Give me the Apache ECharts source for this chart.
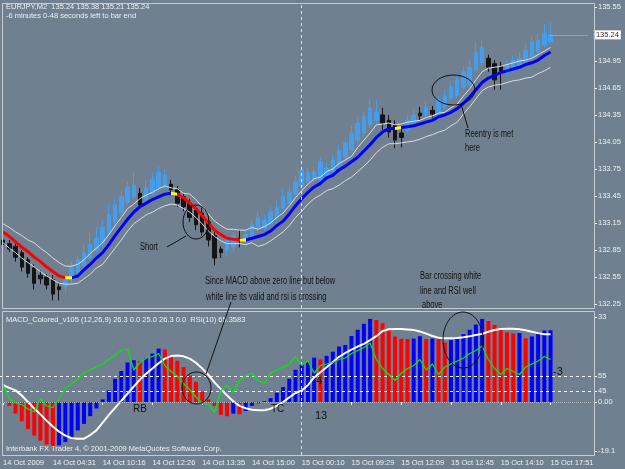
<!DOCTYPE html>
<html>
<head>
<meta charset="utf-8">
<title>EURJPY,M2</title>
<script src="https://cdn.jsdelivr.net/npm/echarts@6/dist/echarts.min.js"></script>
<style>
  html, body { margin: 0; padding: 0; background: #708090; }
  #chart { width: 625px; height: 469px; }
</style>
</head>
<body>
<div id="chart"></div>
<script>
// time axis labels, one every 8 bars
const timeLabels = ['14 Oct 2009', '14 Oct 04:31', '14 Oct 10:16', '14 Oct 12:26', '14 Oct 13:35', '14 Oct 15:00',
  '15 Oct 00:10', '15 Oct 09:29', '15 Oct 12:09', '15 Oct 12:45', '15 Oct 14:10', '15 Oct 17:51'];
const labelStep = 8;
const shiftBars = 6;      // empty bars on the right (chart shift)
const separatorBar = 48;  // day separator (15 Oct 00:10)

// candles
const opens = [
  132.96, 132.92, 132.89, 132.82, 132.74, 132.65, 132.57, 132.55, 132.52, 132.44,
  132.44, 132.52, 132.59, 132.67, 132.76, 132.85, 132.92, 133.05, 133.16, 133.26,
  133.38, 133.44, 133.48, 133.41, 133.48, 133.54, 133.56, 133.58, 133.52, 133.44,
  133.37, 133.29, 133.26, 133.16, 133.01, 132.86, 132.85, 132.88, 132.98, 132.95,
  133.00, 133.10, 133.10, 133.15, 133.21, 133.32, 133.37, 133.47, 133.56, 133.61,
  133.63, 133.63, 133.68, 133.72, 133.79, 133.88, 133.96, 134.07, 134.15, 134.24,
  134.29, 134.35, 134.29, 134.24, 134.15, 134.18, 134.26, 134.37, 134.35, 134.40,
  134.38, 134.44, 134.54, 134.57, 134.66, 134.69, 134.85, 134.93, 134.98, 134.92,
  134.89, 134.82, 134.85, 134.89, 134.94, 135.00, 135.05, 135.13, 135.16];
const closes = [
  132.91, 132.86, 132.77, 132.66, 132.59, 132.48, 132.53, 132.46, 132.36, 132.41,
  132.52, 132.66, 132.74, 132.82, 132.91, 132.98, 133.10, 133.24, 133.35, 133.44,
  133.55, 133.57, 133.35, 133.54, 133.63, 133.71, 133.68, 133.52, 133.37, 133.33,
  133.21, 133.13, 133.05, 132.96, 132.76, 132.82, 132.96, 133.01, 132.97, 133.02,
  133.13, 133.21, 133.18, 133.27, 133.32, 133.44, 133.49, 133.61, 133.74, 133.71,
  133.72, 133.83, 133.76, 133.85, 133.96, 134.04, 134.15, 134.26, 134.33, 134.43,
  134.38, 134.26, 134.16, 134.07, 134.10, 134.29, 134.35, 134.34, 134.44, 134.36,
  134.52, 134.56, 134.66, 134.74, 134.83, 134.88, 135.04, 135.10, 134.88, 134.74,
  134.83, 134.91, 134.96, 134.98, 135.07, 135.16, 135.18, 135.26, 135.24];
const lows = [
  132.77, 132.83, 132.72, 132.61, 132.54, 132.41, 132.47, 132.41, 132.29, 132.29,
  132.37, 132.47, 132.56, 132.63, 132.72, 132.82, 132.87, 133.01, 133.12, 133.23,
  133.35, 133.41, 133.32, 133.36, 133.45, 133.49, 133.52, 133.46, 133.33, 133.28,
  133.16, 133.07, 133.01, 132.89, 132.68, 132.76, 132.78, 132.83, 132.88, 132.88,
  132.96, 133.04, 133.06, 133.12, 133.17, 133.28, 133.34, 133.44, 133.52, 133.57,
  133.59, 133.59, 133.65, 133.68, 133.74, 133.85, 133.93, 134.04, 134.12, 134.21,
  134.26, 134.18, 134.10, 133.98, 133.99, 134.15, 134.23, 134.29, 134.32, 134.32,
  134.35, 134.41, 134.51, 134.54, 134.63, 134.66, 134.83, 134.89, 134.83, 134.63,
  134.63, 134.78, 134.82, 134.85, 134.91, 134.96, 135.02, 135.10, 135.14];
const highs = [
  133.02, 132.96, 132.92, 132.85, 132.77, 132.69, 132.62, 132.58, 132.57, 132.49,
  132.55, 132.72, 132.78, 132.91, 133.04, 133.11, 133.18, 133.35, 133.44, 133.52,
  133.61, 133.72, 133.54, 133.63, 133.71, 133.78, 133.75, 133.63, 133.56, 133.48,
  133.42, 133.34, 133.32, 133.21, 133.05, 132.89, 133.01, 133.05, 133.07, 133.07,
  133.18, 133.27, 133.24, 133.33, 133.41, 133.52, 133.57, 133.67, 133.82, 133.76,
  133.78, 133.88, 133.82, 133.91, 134.02, 134.10, 134.23, 134.32, 134.38, 134.52,
  134.52, 134.43, 134.35, 134.29, 134.21, 134.34, 134.41, 134.44, 134.50, 134.45,
  134.56, 134.63, 134.72, 134.81, 134.89, 134.96, 135.16, 135.18, 135.02, 134.96,
  134.94, 134.95, 135.01, 135.05, 135.13, 135.23, 135.26, 135.36, 135.38];

// moving average and its envelope
const maLine = [
  133.05, 133.00, 132.94, 132.88, 132.83, 132.77, 132.72, 132.66, 132.61, 132.56,
  132.54, 132.54, 132.56, 132.63, 132.69, 132.76, 132.82, 132.91, 133.01, 133.10,
  133.19, 133.27, 133.33, 133.37, 133.41, 133.44, 133.47, 133.48, 133.47, 133.43,
  133.37, 133.31, 133.23, 133.15, 133.07, 133.02, 132.98, 132.97, 132.96, 132.96,
  132.98, 133.00, 133.02, 133.06, 133.12, 133.17, 133.25, 133.34, 133.42, 133.49,
  133.55, 133.59, 133.65, 133.68, 133.74, 133.78, 133.83, 133.88, 133.95, 134.02,
  134.10, 134.16, 134.20, 134.20, 134.21, 134.22, 134.23, 134.25, 134.27, 134.29,
  134.33, 134.35, 134.38, 134.42, 134.48, 134.55, 134.63, 134.71, 134.76, 134.79,
  134.82, 134.84, 134.86, 134.88, 134.91, 134.93, 134.96, 135.01, 135.05];
const upperBand = [
  133.14, 133.10, 133.05, 133.01, 132.96, 132.93, 132.87, 132.82, 132.76, 132.71,
  132.67, 132.67, 132.69, 132.74, 132.81, 132.87, 132.93, 133.02, 133.12, 133.21,
  133.31, 133.36, 133.42, 133.46, 133.49, 133.53, 133.56, 133.54, 133.53, 133.48,
  133.47, 133.41, 133.33, 133.25, 133.17, 133.12, 133.08, 133.08, 133.07, 133.07,
  133.10, 133.08, 133.11, 133.15, 133.21, 133.26, 133.34, 133.43, 133.51, 133.58,
  133.64, 133.66, 133.72, 133.75, 133.81, 133.85, 133.89, 133.99, 134.07, 134.15,
  134.24, 134.25, 134.26, 134.24, 134.25, 134.27, 134.28, 134.29, 134.32, 134.34,
  134.37, 134.38, 134.43, 134.47, 134.56, 134.64, 134.74, 134.83, 134.87, 134.88,
  134.89, 134.91, 134.93, 134.95, 134.96, 134.98, 135.02, 135.06, 135.10];
const lowerBand = [
  132.93, 132.87, 132.82, 132.76, 132.71, 132.66, 132.61, 132.56, 132.52, 132.48,
  132.47, 132.47, 132.48, 132.53, 132.58, 132.65, 132.69, 132.78, 132.87, 132.96,
  133.06, 133.14, 133.19, 133.24, 133.27, 133.31, 133.34, 133.36, 133.35, 133.31,
  133.27, 133.21, 133.14, 133.06, 133.00, 132.95, 132.92, 132.92, 132.92, 132.91,
  132.93, 132.89, 132.91, 132.95, 133.00, 133.05, 133.12, 133.21, 133.28, 133.36,
  133.42, 133.46, 133.51, 133.53, 133.57, 133.62, 133.66, 133.72, 133.78, 133.85,
  133.93, 133.99, 134.03, 134.03, 134.04, 134.05, 134.06, 134.08, 134.11, 134.13,
  134.16, 134.18, 134.23, 134.27, 134.36, 134.44, 134.53, 134.62, 134.66, 134.68,
  134.69, 134.71, 134.73, 134.74, 134.76, 134.77, 134.81, 134.84, 134.88];

// MACD_Colored histogram, its signal line and RSI(10)
const macdHist = [
  -0.3, -1.5, -4.5, -7.5, -10.5, -13, -15, -16.5, -17.5, -16.8,
  -15.5, -13.5, -11, -8.5, -5.5, -2.5, 1, 4.5, 9, 12,
  15.3, 16.2, 15.8, 17.1, 18.8, 20.7, 20.4, 18, 16, 13.5,
  10.3, 7.8, 4, 1, -1.5, -5, -5.5, -4.5, -4.8, -3.5,
  -1.5, -0.5, 0.3, 1.5, 3.6, 5.8, 9, 12.5, 14.6, 15.4,
  17.2, 16.5, 17.9, 19.5, 21.5, 22.1, 25.6, 28, 30.3, 32.2,
  31.8, 30.5, 28, 25.4, 24.5, 24.4, 24.6, 25.5, 24.4, 24.6,
  24.4, 23, 24, 24.6, 26.3, 28, 30, 32.2, 31.4, 29.9,
  27.9, 27, 26.6, 26.7, 24.7, 25.4, 26.3, 27.7, 27.8];
const macdSignal = [
  6.5, 5.5, 4.5, 2.5, 0, -2.5, -4.8, -7.3, -9.5, -11.5,
  -13, -14, -14.2, -14.2, -12.8, -11, -8, -5, -2.3, 0.5,
  3.2, 6, 8.7, 11, 13, 15, 16.8, 17.8, 18, 17.7,
  16.8, 15.2, 13, 10.5, 7.5, 5, 2.5, 0.3, -1.5, -2.4,
  -3, -3.2, -3.2, -2.6, -1.5, 0, 1.8, 3.5, 4.5, 6.5,
  9.5, 11.5, 13.5, 15.5, 17.5, 19, 20.3, 21.5, 22.5, 24,
  25.5, 27.5, 28.2, 28.3, 28.3, 28.1, 27.9, 27.3, 26.5, 25.6,
  24.9, 24.7, 24.7, 24.8, 25.1, 25.5, 26, 26.4, 27.2, 27.9,
  28.3, 28.4, 28.4, 28.2, 27.8, 27.2, 26.7, 26.3, 26.3];
const rsi10 = [
  49, 40, 37, 36, 33, 31, 40, 35, 34, 40,
  47, 50, 53, 57, 59, 61, 63, 66, 69, 72,
  73, 59, 64, 67, 68, 70, 62, 58, 55, 50,
  46, 41, 37, 36, 31, 45, 49, 44, 52, 55,
  57, 52, 50, 57, 59, 61, 63, 68, 62, 65,
  57, 62, 63, 64, 66, 67, 70, 72, 74, 77,
  66, 60, 56, 52, 57, 60, 62, 66, 59, 63,
  56, 61, 63, 65, 67, 70, 72, 75, 66, 60,
  56, 60, 58, 56, 61, 63, 65, 68, 66];
const rsiLevels = [55, 45];

// axis tick values
const priceTicks = [132.25, 132.55, 132.85, 133.15, 133.45, 133.75, 134.05, 134.35, 134.65, 134.95, 135.55];
const macdTicks = [33, 0, -19.1];

const BG = '#708090';
const FG = '#eef0f2';
const FRAME = '#c3cbd3';
const BULL = '#449ef0';
const BEAR = '#141414';
const AXFONT = '"Liberation Sans", Arial, sans-serif';
const NOTEFONT = '"Liberation Sans", Arial, sans-serif';

const nBars = opens.length;
const categories = [];
for (let i = 0; i < nBars + shiftBars; i++) {
  const k = i / labelStep;
  categories.push(i % labelStep === 0 && k < timeLabels.length ? timeLabels[k] : '');
}
const candles = opens.map((o, i) => [o, closes[i], lows[i], highs[i]]);
const histData = macdHist.map((v, i) => ({
  value: v,
  itemStyle: { color: i > 0 && v >= macdHist[i - 1] ? '#0000ff' : '#ff0000' }
}));
const lastClose = closes[nBars - 1];

const chart = echarts.init(document.getElementById('chart'));

// handwritten-looking notes of the trader: narrow text, so squeeze it horizontally
function note(text, x, y, size, squeeze) {
  return {
    type: 'text', x: x, y: y, z: 50, scaleX: squeeze || 0.75,
    style: { text: text, fill: '#111', fontSize: size || 10, fontFamily: NOTEFONT, verticalAlign: 'middle' }
  };
}
function info(text, x, y) {
  return {
    type: 'text', x: x, y: y, z: 50,
    style: { text: text, fill: FG, fontSize: 7.5, fontFamily: AXFONT, verticalAlign: 'middle' }
  };
}
function ring(cx, cy, rx, ry) {
  return { type: 'ellipse', z: 50, shape: { cx: cx, cy: cy, rx: rx, ry: ry }, style: { fill: 'none', stroke: '#111', lineWidth: 1 } };
}
function stroke(x1, y1, x2, y2) {
  return { type: 'line', z: 50, shape: { x1: x1, y1: y1, x2: x2, y2: y2 }, style: { stroke: '#111', lineWidth: 1 } };
}

chart.setOption({
  backgroundColor: BG,
  animation: false,
  grid: [
    { left: 0, top: 3, width: 591, height: 305 },
    { left: 0, top: 311, width: 591, height: 144 }
  ],
  xAxis: [
    {
      type: 'category', gridIndex: 0, data: categories, boundaryGap: true,
      axisLine: { show: false }, axisTick: { show: false }, axisLabel: { show: false }, splitLine: { show: false }
    },
    {
      type: 'category', gridIndex: 1, data: categories, boundaryGap: true,
      axisLine: { show: false },
      axisTick: { show: true, alignWithLabel: true, length: 3, interval: (i, v) => v !== '', lineStyle: { color: FG } },
      axisLabel: { show: true, interval: (i, v) => v !== '', align: 'left', margin: 4, color: FG, fontSize: 7.5, fontFamily: AXFONT },
      splitLine: { show: false }
    }
  ],
  yAxis: [
    {
      type: 'value', gridIndex: 0, position: 'right', offset: 3, min: 132.205, max: 135.594, scale: true,
      axisLine: { show: false }, splitLine: { show: false },
      axisTick: { show: true, length: 3, customValues: priceTicks, lineStyle: { color: FG } },
      axisLabel: { margin: 4, color: FG, fontSize: 7.5, fontFamily: AXFONT, customValues: priceTicks, formatter: v => v.toFixed(2) }
    },
    {
      type: 'value', gridIndex: 1, position: 'right', offset: 3, min: -20.54, max: 35.27,
      axisLine: { show: false }, splitLine: { show: false },
      axisTick: { show: true, length: 3, customValues: macdTicks, lineStyle: { color: FG } },
      axisLabel: { margin: 4, color: FG, fontSize: 7.5, fontFamily: AXFONT, customValues: macdTicks, formatter: v => v === 0 ? '0.00' : String(v) }
    },
    {
      type: 'value', gridIndex: 1, position: 'right', offset: 3, min: 2.33, max: 98.33,
      axisLine: { show: false }, splitLine: { show: false },
      axisTick: { show: true, length: 3, customValues: rsiLevels, lineStyle: { color: FG } },
      axisLabel: { margin: 4, color: FG, fontSize: 7.5, fontFamily: AXFONT, customValues: rsiLevels }
    }
  ],
  visualMap: [{
    show: false, type: 'piecewise', seriesIndex: 3, dimension: 0,
    pieces: [
      { lte: 10, color: '#ff0000' },
      { gt: 10, lte: 11, color: '#ffff00' },
      { gt: 11, lte: 27, color: '#0000ff' },
      { gt: 27, lte: 28, color: '#ffff00' },
      { gt: 28, lte: 38, color: '#ff0000' },
      { gt: 38, lte: 39, color: '#ffff00' },
      { gt: 39, lte: 62.5, color: '#0000ff' },
      { gt: 62.5, lte: 64, color: '#ffff00' },
      { gt: 64, color: '#0000ff' }
    ]
  }],
  series: [
    {
      name: 'EURJPY', type: 'candlestick', xAxisIndex: 0, yAxisIndex: 0, data: candles, barWidth: 4, z: 2,
      itemStyle: { color: BULL, color0: BEAR, borderColor: BULL, borderColor0: BEAR, borderWidth: 1 },
      markLine: {
        silent: true, symbol: 'none', animation: false,
        label: { show: false },
        data: [
          { xAxis: separatorBar, lineStyle: { color: '#dde2e6', type: [3, 3], width: 1 } },
          [
            { coord: [nBars - 1, lastClose], lineStyle: { color: '#b8c0c8', type: 'dotted', width: 1 },
              label: { show: true, position: 'end', distance: 6, formatter: lastClose.toFixed(2), backgroundColor: '#ffffff',
                color: '#333', fontSize: 7.5, fontFamily: AXFONT, padding: [1, 2, 0, 2] } },
            { coord: [nBars - 1 + shiftBars, lastClose] }
          ]
        ]
      }
    },
    { name: 'upper', type: 'line', xAxisIndex: 0, yAxisIndex: 0, data: upperBand, showSymbol: false, z: 3,
      lineStyle: { color: '#d8dde2', width: 1 } },
    { name: 'lower', type: 'line', xAxisIndex: 0, yAxisIndex: 0, data: lowerBand, showSymbol: false, z: 3,
      lineStyle: { color: '#d8dde2', width: 1 } },
    { name: 'ma', type: 'line', xAxisIndex: 0, yAxisIndex: 0, data: maLine, showSymbol: false, z: 4,
      lineStyle: { width: 3 } },
    {
      name: 'MACD', type: 'bar', xAxisIndex: 1, yAxisIndex: 1, data: histData, barWidth: 4, z: 2,
      markLine: {
        silent: true, symbol: 'none', animation: false, label: { show: false },
        data: [
          { yAxis: 0, lineStyle: { color: '#aab2ba', type: 'dotted', width: 1 } },
          { xAxis: separatorBar, lineStyle: { color: '#dde2e6', type: [3, 3], width: 1 } }
        ]
      }
    },
    { name: 'signal', type: 'line', xAxisIndex: 1, yAxisIndex: 1, data: macdSignal, showSymbol: false, z: 4,
      lineStyle: { color: '#ffffff', width: 2 } },
    {
      name: 'RSI', type: 'line', xAxisIndex: 1, yAxisIndex: 2, data: rsi10, showSymbol: false, z: 5,
      lineStyle: { color: '#00ee00', width: 1.2 },
      markLine: {
        silent: true, symbol: 'none', animation: false, label: { show: false },
        lineStyle: { color: '#f4f4f4', type: [3, 3], width: 1 },
        data: rsiLevels.map(v => ({ yAxis: v }))
      }
    }
  ],
  graphic: [
    { type: 'rect', z: 40, shape: { x: 2.5, y: 3.5, width: 592, height: 305 }, style: { fill: 'none', stroke: FRAME, lineWidth: 1 } },
    { type: 'rect', z: 40, shape: { x: 2.5, y: 311.5, width: 592, height: 144 }, style: { fill: 'none', stroke: FRAME, lineWidth: 1 } },
    info('EURJPY,M2  135.24 135.38 135.21 135.24', 6, 7),
    info('-6 minutes 0-48 seconds left to bar end', 6, 16),
    info('MACD_Colored_v105 (12,26,9) 26.3 0.0 25.0 26.3 0.0  RSI(10) 65.3583', 6, 320),
    info('Interbank FX Trader 4, \u00a9 2001-2009 MetaQuotes Software Corp.', 6, 449),
    // trader's notes
    note('Short', 140, 247),
    note('Since MACD above zero line but below', 205, 281),
    note('white line its valid and rsi is crossing', 206, 297),
    note('Reentry is met', 465, 134),
    note('here', 465, 148),
    note('Bar crossing white', 420, 276),
    note('line and RSI well', 420, 291),
    note('above', 422, 305),
    note('RB', 133, 409, 10, 1),
    note('TC', 271, 409, 10, 1),
    note('13', 315, 416, 11, 1),
    note('4', 316, 381, 11, 1),
    note('-3', 553, 372, 11, 1),
    ring(196, 222, 13, 17),
    ring(453.5, 90, 21.5, 15),
    ring(196.5, 388, 14.5, 16),
    ring(463, 340, 20, 28),
    stroke(167, 247, 186, 236),
    stroke(206, 374, 231, 302),
    stroke(461, 104, 468, 128)
  ]
});
</script>
</body>
</html>
